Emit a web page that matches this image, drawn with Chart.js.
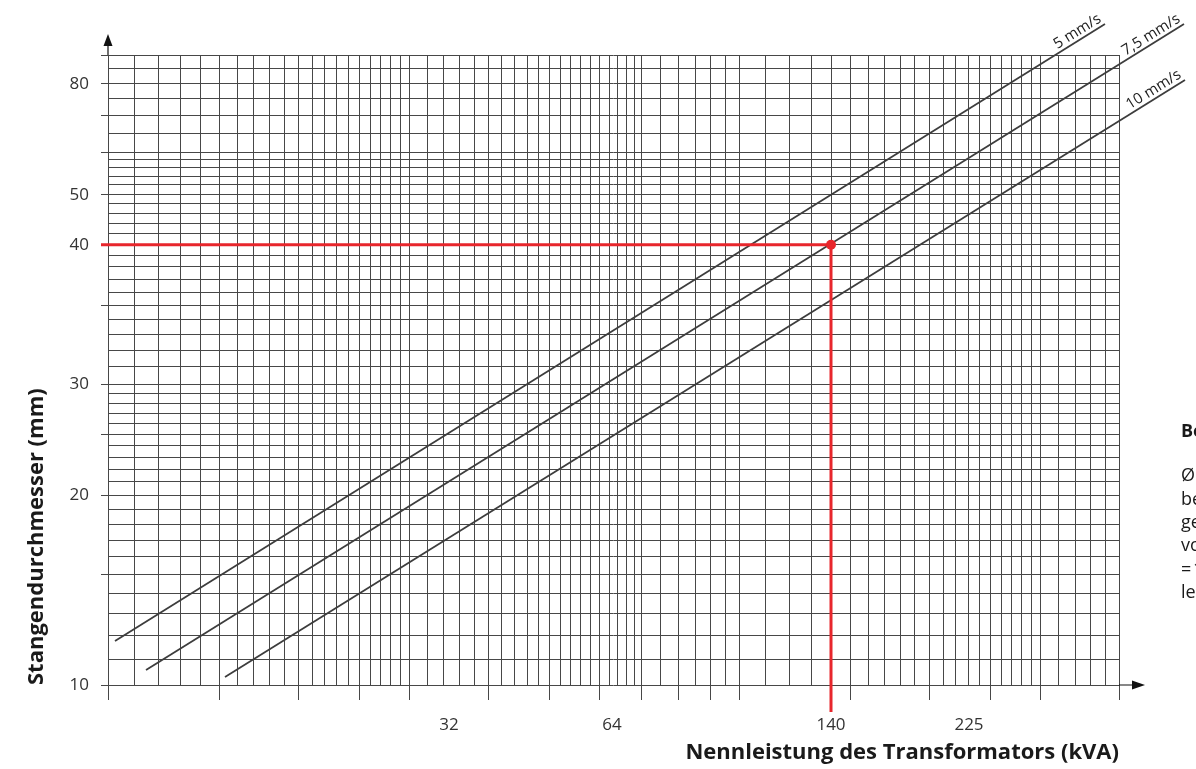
<!DOCTYPE html>
<html>
<head>
<meta charset="utf-8">
<script src="https://cdn.jsdelivr.net/npm/chart.js@4.4.1/dist/chart.umd.min.js"></script>
<style>
  html, body { margin: 0; padding: 0; background: #fff; }
</style>
</head>
<body>
<canvas id="nomogram" width="1196" height="769"></canvas>
<script>
'use strict'
// grid steps of the nomogram paper (same spacing on both axes)
const gridSteps = [0, 26, 50, 72, 92, 111, 129, 145, 161, 176, 190, 204, 216, 228, 240, 251, 262, 272, 282, 292,
  301, 319, 335, 351, 366, 380, 393, 406, 419, 430, 441, 452, 462, 472, 482, 491, 501, 509, 518, 526, 533,
  552, 570, 587, 602, 617, 631, 657, 681, 703, 723, 742, 760, 776, 792, 806, 821, 835, 847, 860, 871, 882,
  893, 903, 913, 923, 932, 950, 967, 982, 997, 1011];
const majorSteps = [0, 111, 190, 251, 301, 380, 441, 491, 533, 570, 602, 631, 723, 742, 821, 882, 932, 1011];
const xMax = 1011;
const yMax = 631;

const xTickPos = [341, 504, 723, 861];
const xTickLabels = ['32', '64', '140', '225'];
const yTickPos = [0, 190, 301, 441, 491, 602];
const yTickLabels = ['10', '20', '30', '40', '50', '80'];

// speed lines (start, end)
const speed5 = [{x: 7, y: 44}, {x: 997, y: 662}];
const speed75 = [{x: 38, y: 15}, {x: 1076, y: 662}];
const speed10 = [{x: 117, y: 8}, {x: 1077, y: 606}];
const speedLabels = ['5 mm/s', '7,5 mm/s', '10 mm/s'];

// example reading: 40 mm at 7,5 mm/s -> 140 kVA
const readLine = [{x: -7, y: 441}, {x: 723, y: 441}, {x: 723, y: -27}];
const readPoint = [{x: 723, y: 441}];

const noteTitle = 'Beispiel:';
const noteLines = ['Ø 40 mm Stange', 'bei einer', 'gewählten Geschwindigkeit', 'von 7,5 mm/s', '=\u200A140 kVA Nenn-', 'leistung'];

const FONT = "'Open Sans', sans-serif";
const gridColor = '#474747';
const red = '#e8262c';

Chart.defaults.font.family = FONT;

const extras = {
  id: 'extras',
  afterDraw(chart) {
    const ctx = chart.ctx;
    const xs = chart.scales.x, ys = chart.scales.y;
    const x0 = xs.getPixelForValue(0), y0 = ys.getPixelForValue(0);
    const top = ys.getPixelForValue(yMax), right = xs.getPixelForValue(xMax);
    ctx.save();
    ctx.strokeStyle = '#111';
    ctx.fillStyle = '#111';
    ctx.lineWidth = 1.2;
    // axis arrows
    ctx.beginPath();
    ctx.moveTo(x0, top); ctx.lineTo(x0, top - 10);
    ctx.moveTo(right, y0); ctx.lineTo(right + 14, y0);
    ctx.stroke();
    ctx.beginPath();
    ctx.moveTo(x0, top - 21); ctx.lineTo(x0 - 4.5, top - 9); ctx.lineTo(x0 + 4.5, top - 9);
    ctx.closePath(); ctx.fill();
    ctx.beginPath();
    ctx.moveTo(right + 26, y0); ctx.lineTo(right + 13, y0 - 4.5); ctx.lineTo(right + 13, y0 + 4.5);
    ctx.closePath(); ctx.fill();

    // labels along the speed lines
    ctx.fillStyle = '#222';
    ctx.font = '15px ' + FONT;
    ctx.textAlign = 'right';
    ctx.textBaseline = 'alphabetic';
    chart.data.datasets.forEach((ds, i) => {
      if (!ds.speed) return;
      const pts = chart.getDatasetMeta(i).data;
      const a = pts[0], b = pts[pts.length - 1];
      const ang = Math.atan2(b.y - a.y, b.x - a.x);
      ctx.save();
      ctx.translate(b.x, b.y);
      ctx.rotate(ang);
      ctx.fillText(ds.label, -1, -4);
      ctx.restore();
    });

    // example note at the right edge
    ctx.textAlign = 'left';
    ctx.textBaseline = 'middle';
    ctx.fillStyle = '#1a1a1a';
    ctx.font = 'bold 18px ' + FONT;
    ctx.fillText(noteTitle, right + 62, 432);
    ctx.font = '18px ' + FONT;
    noteLines.forEach((t, k) => ctx.fillText(t, right + 62, 476 + k * 23.4));
    ctx.restore();
  }
};

const speedStyle = {
  borderColor: '#3d3d3d',
  borderWidth: 1.8,
  pointRadius: 0,
  tension: 0,
  clip: false,
  speed: true,
};

new Chart(document.getElementById('nomogram'), {
  type: 'line',
  data: {
    datasets: [
      {label: '', data: readPoint, showLine: false, pointRadius: 5, pointBackgroundColor: red, pointBorderWidth: 0, clip: false},
      {label: '', data: readLine, borderColor: red, borderWidth: 3, pointRadius: 0, clip: false},
      Object.assign({label: speedLabels[0], data: speed5}, speedStyle),
      Object.assign({label: speedLabels[1], data: speed75}, speedStyle),
      Object.assign({label: speedLabels[2], data: speed10}, speedStyle),
    ],
  },
  options: {
    responsive: false,
    animation: false,
    devicePixelRatio: 1,
    layout: {padding: {top: 55, right: 77, left: 0, bottom: 0}},
    plugins: {legend: {display: false}, tooltip: {enabled: false}},
    scales: {
      x: {
        type: 'linear', min: 0, max: xMax, bounds: 'data', position: 'bottom', weight: 0,
        afterBuildTicks: (s) => { s.ticks = gridSteps.map(v => ({value: v})); },
        afterFit: (s) => { s.height = 15; },
        grid: {
          color: gridColor, lineWidth: 1, drawTicks: true, tickLength: 15,
          tickColor: (c) => (c.tick && majorSteps.includes(c.tick.value)) ? gridColor : 'rgba(0,0,0,0)',
        },
        border: {display: false},
        ticks: {display: false},
      },
      xLab: {
        type: 'linear', min: 0, max: xMax, bounds: 'data', position: 'bottom', weight: 1,
        afterBuildTicks: (s) => { s.ticks = xTickPos.map(v => ({value: v})); },
        afterFit: (s) => { s.height = 69; },
        grid: {display: false, drawTicks: false},
        border: {display: false},
        ticks: {
          callback: (v, i) => xTickLabels[i],
          font: {size: 17}, color: '#333', padding: 15, autoSkip: false, maxRotation: 0, minRotation: 0,
        },
        title: {
          display: true, text: 'Nennleistung des Transformators (kVA)', align: 'end',
          font: {size: 22, weight: 'bold'}, color: '#1a1a1a', padding: {top: 0, bottom: 3},
        },
      },
      y: {
        type: 'linear', min: 0, max: yMax, bounds: 'data', position: 'left', weight: 0,
        afterBuildTicks: (s) => { s.ticks = gridSteps.filter(v => v <= yMax).map(v => ({value: v})); },
        afterFit: (s) => { s.width = 7; },
        grid: {
          color: gridColor, lineWidth: 1, drawTicks: true, tickLength: 7,
          tickColor: (c) => (c.tick && majorSteps.includes(c.tick.value)) ? gridColor : 'rgba(0,0,0,0)',
        },
        border: {display: false},
        ticks: {display: false},
      },
      yLab: {
        type: 'linear', min: 0, max: yMax, bounds: 'data', position: 'left', weight: 1,
        afterBuildTicks: (s) => { s.ticks = yTickPos.map(v => ({value: v})); },
        afterFit: (s) => { s.width = 101; },
        grid: {display: false, drawTicks: false},
        border: {display: false},
        ticks: {
          callback: (v, i) => yTickLabels[i],
          font: {size: 17}, color: '#333', padding: 12, autoSkip: false,
        },
        title: {
          display: true, text: 'Stangendurchmesser (mm)', align: 'start',
          font: {size: 22, weight: 'bold'}, color: '#1a1a1a', padding: {top: 24, bottom: 0},
        },
      },
    },
  },
  plugins: [extras],
});
</script>
</body>
</html>
